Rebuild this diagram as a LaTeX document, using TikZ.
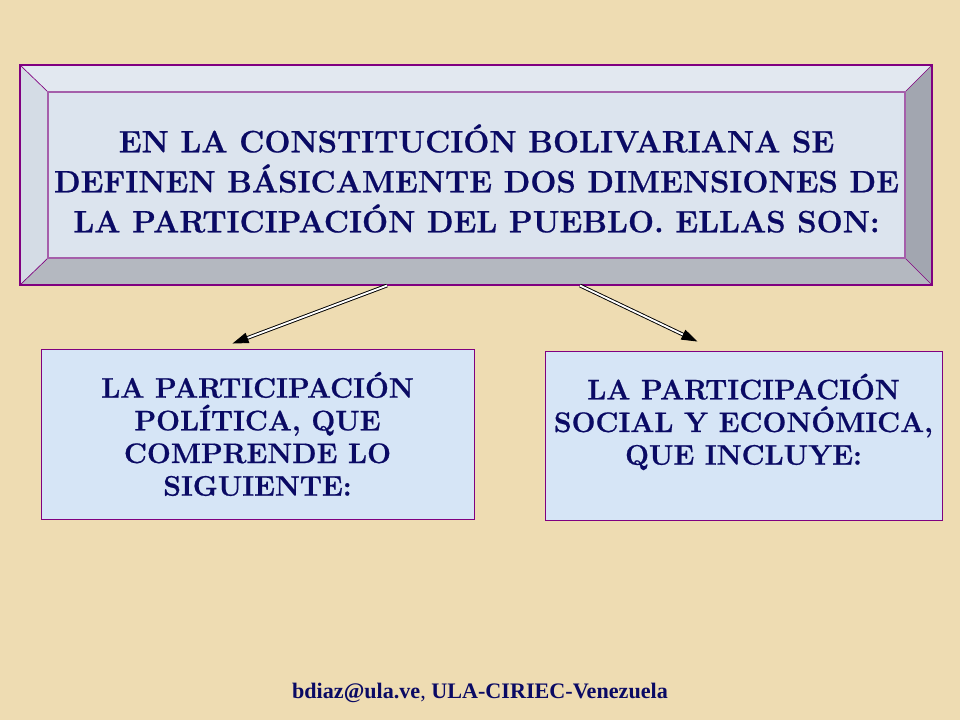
\documentclass[tikz,border=0pt]{standalone}
\usepackage{fontspec}
\newfontfamily\timesfont{Liberation Serif}
\newfontfamily\gruesa[BoldFeatures={FakeBold=0.7}]{Latin Modern Roman}
\usetikzlibrary{arrows.meta,calc}

\definecolor{fondo}{RGB}{238,220,178}
\definecolor{borde}{RGB}{128,0,128}
\definecolor{bordeclaro}{RGB}{165,95,170}
\definecolor{azulcaja}{RGB}{214,229,246}
\definecolor{biselsup}{RGB}{226,232,240}
\definecolor{biselizq}{RGB}{212,220,229}
\definecolor{biselinf}{RGB}{180,184,192}
\definecolor{biselder}{RGB}{162,166,176}
\definecolor{centro}{RGB}{220,228,238}
\definecolor{tinta}{RGB}{10,10,100}

\begin{document}
\begin{tikzpicture}[x=0.75pt,y=-0.75pt,
    caja/.style={draw=borde, line width=0.7pt, fill=azulcaja, align=center,
      text=tinta, font=\gruesa\fontsize{21.2}{24.5}\selectfont\bfseries},
    flecha/.style={double, double distance=1.4pt, line width=0.7pt,
      -{Triangle[length=12pt,width=8pt]}}]

    % Fondo
    \fill[fondo] (0,0) rectangle (960,720);
    \useasboundingbox (0,0) rectangle (960,720);

    % Marco biselado
    \fill[biselsup] (20,65) -- (932,65) -- (905,92) -- (48,92) -- cycle;
    \fill[biselizq] (20,65) -- (48,92) -- (48,258) -- (20,285) -- cycle;
    \fill[biselinf] (20,285) -- (48,258) -- (905,258) -- (932,285) -- cycle;
    \fill[biselder] (932,65) -- (932,285) -- (905,258) -- (905,92) -- cycle;
    \draw[borde, line width=0.5pt] (20,65) -- (48,92) (932,65) -- (905,92)
      (20,285) -- (48,258) (932,285) -- (905,258);
    \draw[bordeclaro, line width=1pt, fill=centro] (48,92) rectangle (905,258);
    \node[draw=borde, line width=0.8pt, minimum width=684pt, minimum height=165pt,
      inner sep=0pt] (marco) at (476,175) {};

    % Texto principal
    \node[align=center, text=tinta, font=\gruesa\fontsize{23.2}{30}\selectfont\bfseries]
      (titulo) at (476.5,178.5) {EN LA CONSTITUCIÓN BOLIVARIANA SE\\
      DEFINEN BÁSICAMENTE DOS DIMENSIONES DE\\
      LA PARTICIPACIÓN DEL PUEBLO. ELLAS SON:};

    % Cajas
    \node[caja, minimum width=324.75pt, minimum height=127.5pt] (politica) at (257.5,434)
      {LA PARTICIPACIÓN\\ POLÍTICA, QUE\\ COMPRENDE LO\\ SIGUIENTE:};
    \node[caja, minimum width=297.75pt, minimum height=126.75pt] (social) at (743.5,435.5)
      {LA PARTICIPACIÓN\\ SOCIAL Y ECONÓMICA,\\ QUE INCLUYE:\\ \mbox{}};

    % Flechas
    \coordinate (ini1) at ($(marco.south)+(-89,0)$);
    \coordinate (ini2) at ($(marco.south)+(104,0)$);
    \coordinate (fin1) at ($(politica.north)+(-25,-5)$);
    \coordinate (fin2) at ($(social.north)+(-46,-9)$);
    \draw[flecha] (ini1) -- (fin1);
    \draw[flecha] (ini2) -- (fin2);

    % Pie
    \node[text=tinta, font=\timesfont\fontsize{16.6}{20}\selectfont, anchor=base]
      (pie) at (480,698) {\textbf{bdiaz@ula.ve}, \textbf{ULA-CIRIEC-Venezuela}};

\end{tikzpicture}
\end{document}
